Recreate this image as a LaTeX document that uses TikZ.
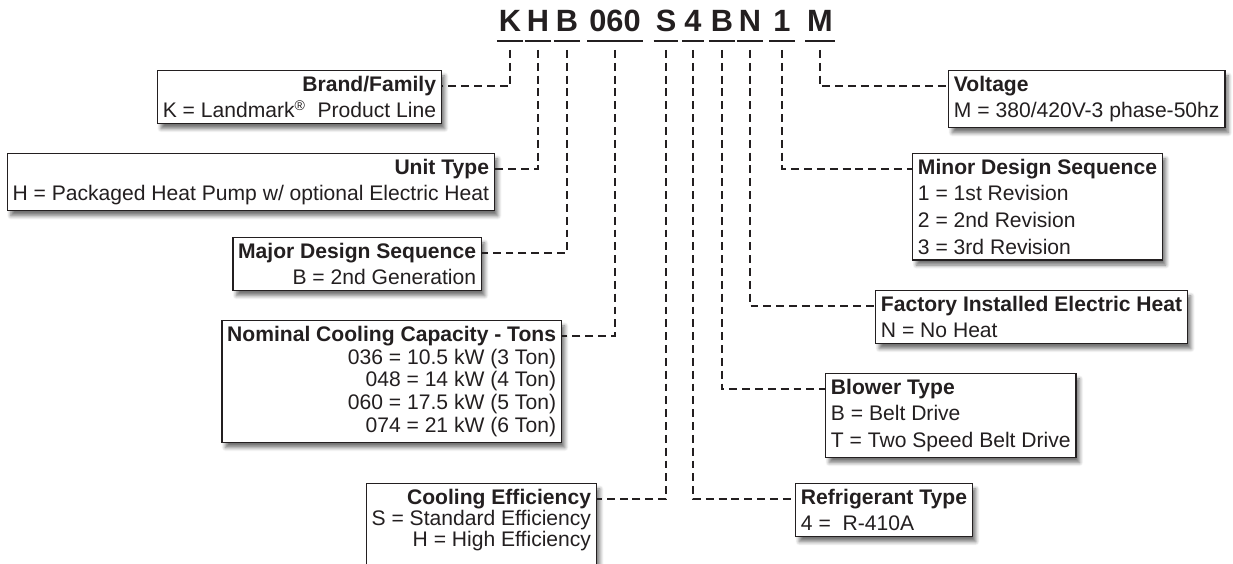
\documentclass[tikz,border=0pt]{standalone}
\usepackage{fontspec}
\setmainfont{Liberation Sans}
\usetikzlibrary{shadows.blur}
\definecolor{ink}{HTML}{231F20}

\begin{document}
\begin{tikzpicture}[
    every node/.style={text=ink, font=\fontsize{12}{15.2}\selectfont},
    codechar/.style={font=\bfseries\fontsize{17.5}{17.5}\selectfont, anchor=base, inner xsep=1pt, inner ysep=0pt},
    keybox/.style={draw=ink, line width=0.8pt, fill=white, inner xsep=3pt, inner ysep=3pt,
      blur shadow={shadow xshift=2pt, shadow yshift=-3pt, shadow blur steps=6, shadow opacity=55}},
    leftbox/.style={keybox, anchor=north east, align=right},
    rightbox/.style={keybox, anchor=north west, align=left},
    lead/.style={draw=ink, line width=1.1pt, dash pattern=on 4.5pt off 2.8pt}
  ]

  \useasboundingbox (0,0) rectangle (24.66,11.26);

  % model number, one node per field
  \node[codechar] (cK) at (10.20,10.62) {K};
  \node[codechar] (cH) at (10.76,10.62) {H};
  \node[codechar] (cB) at (11.34,10.62) {B};
  \node[codechar] (cNum) at (12.30,10.62) {060};
  \node[codechar] (cS) at (13.32,10.62) {S};
  \node[codechar] (cFour) at (13.86,10.62) {4};
  \node[codechar] (cBlow) at (14.44,10.62) {B};
  \node[codechar] (cN) at (15.00,10.62) {N};
  \node[codechar, minimum width=0.5cm] (cOne) at (15.64,10.62) {1};
  \node[codechar, minimum width=0.5cm] (cM) at (16.40,10.62) {M};

  \foreach \c in {cK,cH,cB,cNum,cS,cFour,cBlow,cN,cOne,cM}
    \draw[ink, line width=1.2pt] ([yshift=-0.18cm]\c.base west) -- ([yshift=-0.18cm]\c.base east);

  % left column of keys
  \node[leftbox] (brand) at (8.84,9.86)
    {\textbf{Brand/Family}\\ K = Landmark\textsuperscript{\textregistered}\ \ Product Line};
  \node[leftbox] (unit) at (9.90,8.20)
    {\textbf{Unit Type}\\ H = Packaged Heat Pump w/ optional Electric Heat};
  \node[leftbox] (major) at (9.64,6.52)
    {\textbf{Major Design Sequence}\\ B = 2nd Generation};
  \node[leftbox, font=\fontsize{12}{13}\selectfont] (tons) at (11.24,4.86)
    {\textbf{Nominal Cooling Capacity - Tons}\\ 036 = 10.5 kW (3 Ton)\\ 048 = 14 kW (4 Ton)\\
     060 = 17.5 kW (5 Ton)\\ 074 = 21 kW (6 Ton)};
  \node[leftbox, font=\fontsize{12}{12}\selectfont, text depth=0.5cm] (eff) at (11.94,1.60)
    {\textbf{Cooling Efficiency}\\ S = Standard Efficiency\\ H = High Efficiency};

  % right column of keys
  \node[rightbox] (volt) at (18.96,9.86)
    {\textbf{Voltage}\\ M = 380/420V-3 phase-50hz};
  \node[rightbox] (minor) at (18.24,8.20)
    {\textbf{Minor Design Sequence}\\ 1 = 1st Revision\\ 2 = 2nd Revision\\ 3 = 3rd Revision};
  \node[rightbox] (heat) at (17.50,5.46)
    {\textbf{Factory Installed Electric Heat}\\ N = No Heat};
  \node[rightbox] (blower) at (16.50,3.80)
    {\textbf{Blower Type}\\ B = Belt Drive\\ T = Two Speed Belt Drive};
  \node[rightbox] (refrig) at (15.90,1.60)
    {\textbf{Refrigerant Type}\\ 4 =\ \ R-410A};

  % leaders from the fields to their keys
  \draw[lead] ([yshift=-0.36cm]cK.base) |- ([yshift=-0.32cm]brand.north east);
  \draw[lead] ([yshift=-0.36cm]cH.base) |- ([yshift=-0.32cm]unit.north east);
  \draw[lead] ([yshift=-0.36cm]cB.base) |- ([yshift=-0.32cm]major.north east);
  \draw[lead] ([yshift=-0.36cm]cNum.base) |- ([yshift=-0.32cm]tons.north east);
  \draw[lead] ([yshift=-0.36cm]cS.base) |- ([yshift=-0.32cm]eff.north east);
  \draw[lead] ([yshift=-0.36cm]cFour.base) |- ([yshift=-0.32cm]refrig.north west);
  \draw[lead] ([yshift=-0.36cm]cBlow.base) |- ([yshift=-0.32cm]blower.north west);
  \draw[lead] ([yshift=-0.36cm]cN.base) |- ([yshift=-0.32cm]heat.north west);
  \draw[lead] ([yshift=-0.36cm]cOne.base) |- ([yshift=-0.32cm]minor.north west);
  \draw[lead] ([yshift=-0.36cm]cM.base) |- ([yshift=-0.32cm]volt.north west);

\end{tikzpicture}
\end{document}
